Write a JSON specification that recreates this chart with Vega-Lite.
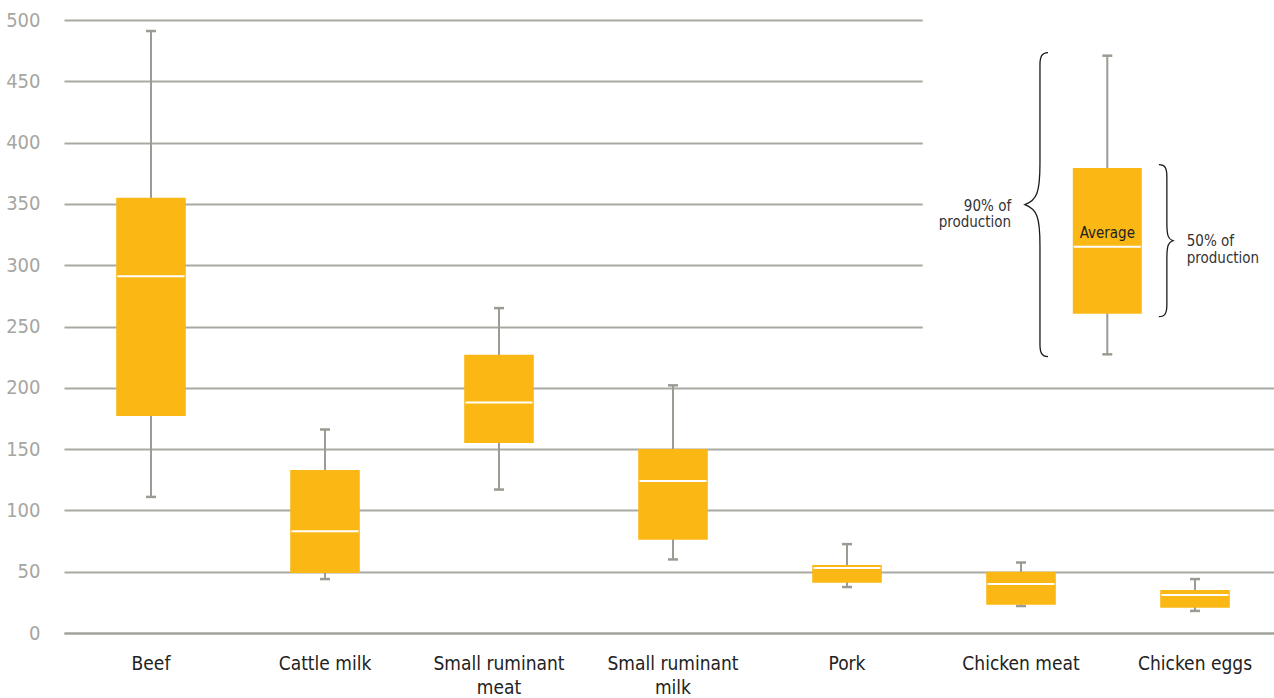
{
  "$schema": "https://vega.github.io/schema/vega-lite/v6.json",
  "width": 1206,
  "height": 613,
  "autosize": {"type": "none"},
  "padding": {"left": 68, "top": 20, "right": 0, "bottom": 65},
  "background": "white",
  "config": {
    "view": {"stroke": null},
    "font": "Liberation Sans Narrow, DejaVu Sans Condensed, sans-serif",
    "axisY": {
      "grid": true, "gridColor": "#a9a9a3", "gridWidth": 2,
      "domain": false, "ticks": false,
      "labelColor": "#a6a6a0", "labelFontSize": 20, "labelPadding": 28
    },
    "axisX": {
      "grid": false, "ticks": false, "domain": true, "domainColor": "#a0a09a", "domainWidth": 2,
      "labelColor": "#222222", "labelFontSize": 19, "labelPadding": 21, "labelAngle": 0, "labelLineHeight": 24
    }
  },
  "datasets": {
    "boxes": [
      {"category": "Beef", "low": 111, "q1": 177, "median": 291, "q3": 355, "high": 491},
      {"category": "Cattle milk", "low": 44, "q1": 49, "median": 83, "q3": 133, "high": 166},
      {"category": "Small ruminant meat", "low": 117, "q1": 155, "median": 188, "q3": 227, "high": 265},
      {"category": "Small ruminant milk", "low": 60, "q1": 76, "median": 124, "q3": 150, "high": 202},
      {"category": "Pork", "low": 37.5, "q1": 41, "median": 53, "q3": 55.5, "high": 72.5},
      {"category": "Chicken meat", "low": 22, "q1": 23, "median": 40, "q3": 50, "high": 57.5},
      {"category": "Chicken eggs", "low": 18, "q1": 20.5, "median": 31, "q3": 35, "high": 44}
    ],
    "legendbox": [{"lx": 0.8648, "low": 227.3, "q1": 260.5, "median": 315.1, "q3": 379.3, "high": 470.9}],
    "mask": [{"x0": 0.7105, "x1": 1.02, "y0": 225, "y1": 515}],
    "brace90": [{"lx": 0.8085, "mid": 349.4}],
    "brace50": [{"lx": 0.9146, "mid": 320}],
    "note90": [{"lx": 0.7844, "y": 348, "label": ["90% of", "production"]}],
    "note50": [{"lx": 0.9312, "y": 319.7, "label": ["50% of", "production"]}],
    "noteavg": [{"lx": 0.8648, "y": 326.5, "label": "Average"}]
  },
  "layer": [
    {
      "data": {"name": "boxes"},
      "encoding": {
        "x": {
          "field": "category", "type": "nominal", "sort": null, "title": null,
          "scale": {"range": [-4, 1214], "paddingInner": 0, "paddingOuter": 0},
          "axis": {"labelExpr": "datum.value == 'Small ruminant meat' ? ['Small ruminant', 'meat'] : datum.value == 'Small ruminant milk' ? ['Small ruminant', 'milk'] : datum.value"}
        }
      },
      "layer": [
        {
          "mark": {"type": "rule", "color": "#9b9b94", "strokeWidth": 2},
          "encoding": {
            "y": {
              "field": "low", "type": "quantitative", "title": null,
              "scale": {"domain": [0, 500], "nice": false},
              "axis": {"values": [0, 50, 100, 150, 200, 250, 300, 350, 400, 450, 500]}
            },
            "y2": {"field": "high"}
          }
        },
        {
          "mark": {"type": "tick", "color": "#9b9b94", "size": 10, "thickness": 2.5, "opacity": 1},
          "encoding": {"y": {"field": "low", "type": "quantitative", "title": null}}
        },
        {
          "mark": {"type": "tick", "color": "#9b9b94", "size": 10, "thickness": 2.5, "opacity": 1},
          "encoding": {"y": {"field": "high", "type": "quantitative", "title": null}}
        },
        {
          "mark": {"type": "bar", "color": "#FBB815", "width": {"band": 0.4}},
          "encoding": {
            "y": {"field": "q1", "type": "quantitative", "title": null},
            "y2": {"field": "q3"}
          }
        },
        {
          "mark": {"type": "tick", "color": "white", "size": 67, "thickness": 2, "opacity": 1},
          "encoding": {"y": {"field": "median", "type": "quantitative", "title": null}}
        }
      ]
    },
    {
      "encoding": {
        "x": {"field": "lx", "type": "quantitative", "axis": null, "scale": {"domain": [0, 1], "nice": false, "zero": false}}
      },
      "layer": [
        {
          "data": {"name": "mask"},
          "mark": {"type": "rect", "color": "white"},
          "encoding": {
            "x": {"field": "x0", "type": "quantitative", "axis": null},
            "x2": {"field": "x1"},
            "y": {"field": "y0", "type": "quantitative", "title": null},
            "y2": {"field": "y1"}
          }
        },
        {
          "data": {"name": "legendbox"},
          "layer": [
            {
              "mark": {"type": "rule", "color": "#9b9b94", "strokeWidth": 2},
              "encoding": {"y": {"field": "low", "type": "quantitative", "title": null}, "y2": {"field": "high"}}
            },
            {
              "mark": {"type": "tick", "orient": "horizontal", "color": "#9b9b94", "size": 10, "thickness": 2.5, "opacity": 1},
              "encoding": {"y": {"field": "low", "type": "quantitative", "title": null}}
            },
            {
              "mark": {"type": "tick", "orient": "horizontal", "color": "#9b9b94", "size": 10, "thickness": 2.5, "opacity": 1},
              "encoding": {"y": {"field": "high", "type": "quantitative", "title": null}}
            },
            {
              "mark": {"type": "bar", "orient": "vertical", "color": "#FBB815", "width": 69},
              "encoding": {"y": {"field": "q1", "type": "quantitative", "title": null}, "y2": {"field": "q3"}}
            },
            {
              "mark": {"type": "tick", "orient": "horizontal", "color": "white", "size": 67, "thickness": 2, "opacity": 1},
              "encoding": {"y": {"field": "median", "type": "quantitative", "title": null}}
            }
          ]
        },
        {
          "data": {"name": "brace90"},
          "mark": {
            "type": "point", "filled": false, "color": "#1a1a1a", "strokeWidth": 1.3, "opacity": 1, "size": 92416,
            "shape": "M 0.053 -1 C 0.01 -1 0 -0.97 0 -0.92 L 0 -0.27 C 0 -0.08 -0.02 -0.03 -0.099 0 C -0.02 0.03 0 0.08 0 0.27 L 0 0.92 C 0 0.97 0.01 1 0.053 1"
          },
          "encoding": {"y": {"field": "mid", "type": "quantitative", "title": null}}
        },
        {
          "data": {"name": "brace50"},
          "mark": {
            "type": "point", "filled": false, "color": "#1a1a1a", "strokeWidth": 1.3, "opacity": 1, "size": 23104,
            "shape": "M -0.105 -1 C -0.02 -1 0 -0.95 0 -0.84 L 0 -0.24 C 0 -0.06 0.02 -0.02 0.079 0 C 0.02 0.02 0 0.06 0 0.24 L 0 0.84 C 0 0.95 -0.02 1 -0.105 1"
          },
          "encoding": {"y": {"field": "mid", "type": "quantitative", "title": null}}
        },
        {
          "data": {"name": "note90"},
          "mark": {"type": "text", "align": "right", "baseline": "middle", "fontSize": 15, "lineHeight": 16, "color": "#333333"},
          "encoding": {"y": {"field": "y", "type": "quantitative", "title": null}, "text": {"field": "label"}}
        },
        {
          "data": {"name": "note50"},
          "mark": {"type": "text", "align": "left", "baseline": "middle", "fontSize": 15, "lineHeight": 17, "color": "#333333"},
          "encoding": {"y": {"field": "y", "type": "quantitative", "title": null}, "text": {"field": "label"}}
        },
        {
          "data": {"name": "noteavg"},
          "mark": {"type": "text", "align": "center", "baseline": "middle", "fontSize": 15, "color": "#222222"},
          "encoding": {"y": {"field": "y", "type": "quantitative", "title": null}, "text": {"field": "label"}}
        }
      ]
    }
  ],
  "resolve": {"scale": {"x": "independent"}}
}
